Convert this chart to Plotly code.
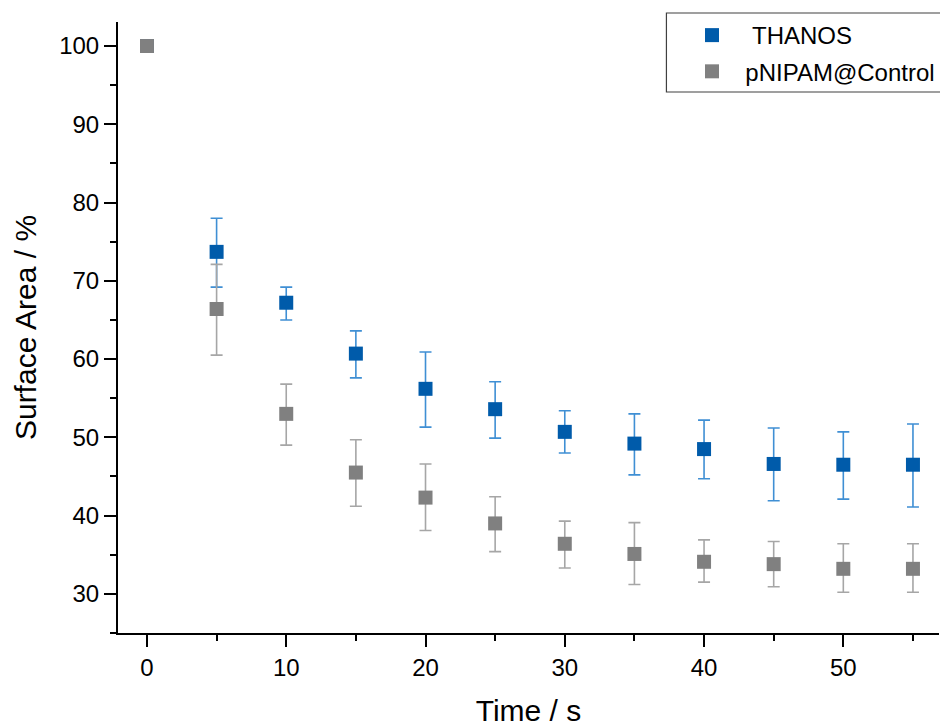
import plotly.graph_objects as go

time_s = [0, 5, 10, 15, 20, 25, 30, 35, 40, 45, 50, 55]

thanos_mean = [100, 73.7, 67.2, 60.7, 56.2, 53.6, 50.7, 49.2, 48.5, 46.6, 46.5, 46.5]
thanos_upper = [100, 78.0, 69.2, 63.6, 60.9, 57.1, 53.4, 53.0, 52.2, 51.2, 50.7, 51.7]
thanos_lower = [100, 69.2, 65.0, 57.6, 51.3, 49.9, 48.0, 45.2, 44.7, 41.9, 42.1, 41.1]

ctrl_mean = [100, 66.4, 53.0, 45.5, 42.3, 39.0, 36.4, 35.1, 34.1, 33.8, 33.2, 33.2]
ctrl_upper = [100, 72.1, 56.8, 49.7, 46.6, 42.4, 39.3, 39.1, 36.9, 36.7, 36.4, 36.4]
ctrl_lower = [100, 60.5, 49.0, 41.2, 38.1, 35.4, 33.3, 31.2, 31.5, 30.9, 30.2, 30.2]

y_ticks = [30, 40, 50, 60, 70, 80, 90, 100]
x_ticks = [0, 10, 20, 30, 40, 50]

FONT = "Arial, Liberation Sans, sans-serif"
NB = "\u00a0"


def err(mean, upper, lower):
    plus = [u - m for u, m in zip(upper, mean)]
    minus = [m - l for m, l in zip(mean, lower)]
    return plus, minus


tp, tm = err(thanos_mean, thanos_upper, thanos_lower)
cp, cm = err(ctrl_mean, ctrl_upper, ctrl_lower)

fig = go.Figure()
fig.add_trace(go.Scatter(
    x=time_s, y=thanos_mean, mode="markers", name=NB * 3 + "THANOS",
    legendgroup="a",
    marker=dict(symbol="square", size=14, color="#005BAA"),
    error_y=dict(type="data", symmetric=False, array=tp, arrayminus=tm,
                 color="#3F8FD4", thickness=1.6, width=6),
))
fig.add_trace(go.Scatter(
    x=time_s, y=ctrl_mean, mode="markers", name=NB * 2 + "pNIPAM@Control",
    legendgroup="b",
    marker=dict(symbol="square", size=14, color="#808080"),
    error_y=dict(type="data", symmetric=False, array=cp, arrayminus=cm,
                 color="#A6A6A6", thickness=1.6, width=6),
))

fig.update_layout(
    width=940, height=728,
    margin=dict(l=118, r=0, t=22, b=95),
    paper_bgcolor="white", plot_bgcolor="white",
    font=dict(family=FONT, color="black", size=24),
    showlegend=True,
    legend=dict(
        x=0.699, y=1.0147, xanchor="left", yanchor="top",
        bgcolor="rgba(0,0,0,0)", borderwidth=0,
        font=dict(size=24, family=FONT),
        tracegroupgap=2, traceorder="grouped",
    ),
    shapes=[dict(type="rect", xref="paper", yref="paper",
                 x0=0.668, x1=1.05, y0=(633 - 92) / 611, y1=(633 - 13) / 611,
                 line=dict(color="#404040", width=1.2), fillcolor="rgba(0,0,0,0)")],
)

fig.update_xaxes(
    range=[-2.08, 56.87],
    tickvals=x_ticks, ticktext=[str(v) for v in x_ticks],
    ticks="outside", ticklen=12, tickwidth=2, tickcolor="black",
    minor=dict(dtick=5, tick0=0, ticks="outside", ticklen=6, tickwidth=2, tickcolor="black"),
    showline=True, linecolor="black", linewidth=2,
    showgrid=False, zeroline=False,
    tickfont=dict(size=24),
    title=dict(text="Time / s", font=dict(size=30), standoff=20),
)
fig.update_yaxes(
    range=[25.0, 103.07],
    tickvals=y_ticks, ticktext=[str(v) for v in y_ticks],
    ticks="outside", ticklen=12, tickwidth=2, tickcolor="black",
    minor=dict(dtick=5, tick0=0, ticks="outside", ticklen=6, tickwidth=2, tickcolor="black"),
    showline=True, linecolor="black", linewidth=2,
    showgrid=False, zeroline=False,
    tickfont=dict(size=24),
    title=dict(text="Surface Area / %", font=dict(size=30), standoff=14),
)

fig.write_html(
    "out.html",
    config={"displayModeBar": False},
    post_script="document.body.style.margin='0';document.body.style.overflow='hidden';",
)
